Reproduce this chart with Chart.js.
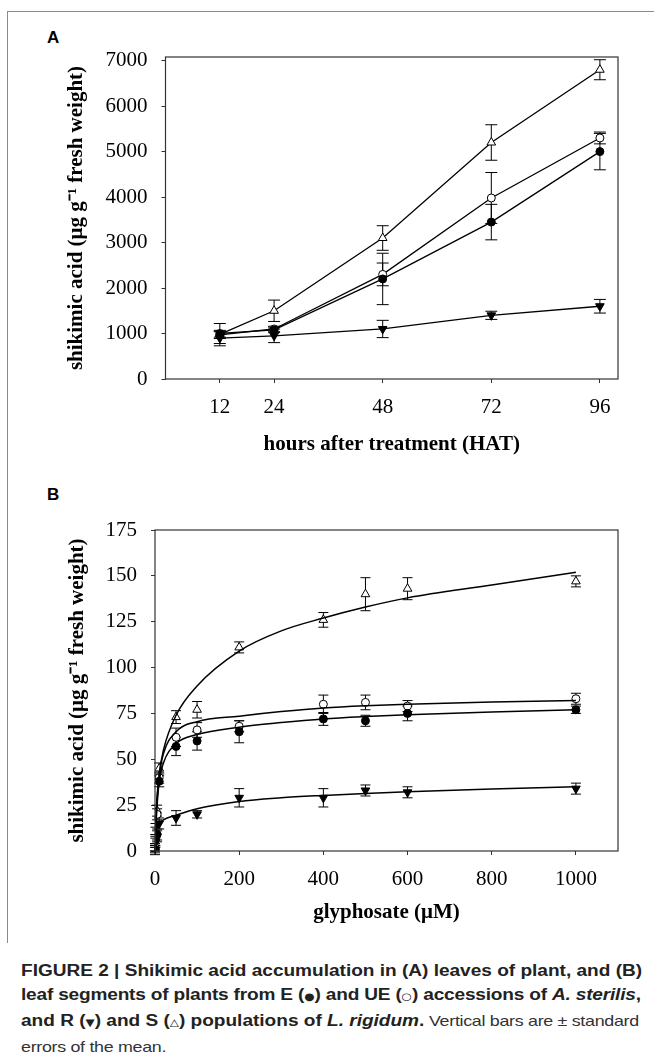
<!DOCTYPE html>
<html>
<head>
<meta charset="utf-8">
<script src="https://cdn.jsdelivr.net/npm/chart.js@4.4.1/dist/chart.umd.min.js"></script>
<style>
  body { margin: 0; background: #fff; width: 654px; height: 1060px; position: relative; overflow: hidden; }
  #frame { position: absolute; left: 7px; top: 11px; width: 700px; height: 931px; border-left: 1.5px solid #8a8a8a; border-top: 1.5px solid #8a8a8a; }
  .panel { position: absolute; left: 0; width: 654px; height: 470px; }
  .tag { position: absolute; left: 47px; font: bold 17px "Liberation Sans", Arial, sans-serif; line-height: 17px; color: #000; }
  #caption { position: absolute; left: 21px; top: 959px; font: 16px "Liberation Sans", Arial, sans-serif; line-height: 24px; color: #222; white-space: nowrap; transform: scaleX(1.19); transform-origin: left top; }
  #caption b { font-weight: bold; }
  #caption .reg { font-size: 15px; letter-spacing: -0.25px; color: #333; }
  #caption .l2 { letter-spacing: -0.15px; }
  .sym { font-family: "DejaVu Sans", sans-serif; font-size: 10px; letter-spacing: 0; }
</style>
</head>
<body>
<div id="frame"></div>
<div class="tag" style="top:29px">A</div>
<div class="tag" style="top:486px">B</div>
<div class="panel" style="top:0"><canvas id="chartA" width="654" height="470"></canvas></div>
<div class="panel" style="top:470px"><canvas id="chartB" width="654" height="470"></canvas></div>
<div id="caption"><b>FIGURE 2 | Shikimic acid accumulation in (A) leaves of plant, and (B)<br><span class="l2">leaf segments of plants from E (<span class="sym">●</span>) and UE (<span class="sym">○</span>) accessions of <i>A. sterilis</i>,</span><br>and R (<span class="sym">▼</span>) and S (<span class="sym">△</span>) populations of <i>L. rigidum</i>.</b><span class="reg"> Vertical bars are ± standard<br>errors of the mean.</span></div>

<script>
// panel A - time course
var hoursA = [12, 24, 48, 72, 96];
var sA = [980, 1500, 3100, 5200, 6800];
var sAerr = [60, 235, 270, 390, 220];
var ueA = [970, 1100, 2300, 3980, 5300];
var ueAerr = [80, 60, 250, 560, 130];
var eA = [1000, 1080, 2200, 3450, 5000];
var eAerr = [220, 60, 565, 390, 400];
var rA = [900, 950, 1100, 1400, 1600];
var rAerr = [170, 150, 190, 90, 150];
var xTicksA = [12, 24, 48, 72, 96];
var yTicksA = [0, 1000, 2000, 3000, 4000, 5000, 6000, 7000];

// panel B - glyphosate dose
var doseB = [0, 1, 5, 10, 50, 100, 200, 400, 500, 600, 1000];
var sB = [2, 12, 22, 45, 73, 77, 111, 126, 140, 143, 147];
var sBerr = [2, 3, 3, 3, 3.5, 4.5, 3, 4, 9, 6, 3];
var ueB = [2, 10, 20, 40, 62, 66, 68, 80, 81, 79, 83];
var ueBerr = [2, 3, 3, 3, 5, 4, 3, 5, 4, 3, 3];
var eB = [1, 6, 9, 38, 57, 60, 65, 72, 71, 75, 77];
var eBerr = [2, 3, 3, 3, 5, 5, 6, 3.5, 3, 4, 2];
var rB = [0, 5, 8, 15, 18, 20, 29, 29, 33, 32, 34];
var rBerr = [2, 3, 3, 3, 4, 2, 5, 5, 3, 3, 3];

// fitted curves
var fitX = [1, 3, 5, 10, 20, 50, 100, 200, 300, 400, 500, 600, 800, 1000];
var sFit = [10, 22, 30, 42, 55, 74, 90, 109, 120, 127, 133, 138, 145, 152];
var ueFit = [8, 20, 28, 41, 53, 65, 70.5, 73.5, 76, 78, 79.2, 80, 81.2, 82];
var eFit = [6, 17, 25, 38, 48, 58.5, 63.5, 67.5, 70, 72, 73.3, 74.3, 75.8, 77];
var rFit = [9, 11, 12.5, 15, 17, 19.5, 23, 27, 29, 30.3, 31.4, 32.3, 33.8, 35];
var xTicksB = [0, 200, 400, 600, 800, 1000];
var yTicksB = [0, 25, 50, 75, 100, 125, 150, 175];

var serif = '"Liberation Serif", "Times New Roman", serif';

function pts(xs, ys) {
  return xs.map(function(x, i) { return {x: x, y: ys[i]}; });
}

// error bars + box around plot area
var errorBars = {
  id: 'errorBars',
  beforeDatasetsDraw: function(chart) {
    var ctx = chart.ctx;
    var xs = chart.scales.x, ys = chart.scales.y;
    var cap = chart.options.plugins.errorBars.cap;
    ctx.save();
    ctx.strokeStyle = '#000';
    ctx.lineWidth = 1;
    chart.data.datasets.forEach(function(ds) {
      if (!ds.errors) return;
      ds.data.forEach(function(p, i) {
        var px = xs.getPixelForValue(p.x);
        var top = ys.getPixelForValue(p.y + ds.errors[i]);
        var bot = ys.getPixelForValue(p.y - ds.errors[i]);
        ctx.beginPath();
        ctx.moveTo(px, top); ctx.lineTo(px, bot);
        ctx.moveTo(px - cap, top); ctx.lineTo(px + cap, top);
        ctx.moveTo(px - cap, bot); ctx.lineTo(px + cap, bot);
        ctx.stroke();
      });
    });
    ctx.restore();
  },
  afterDraw: function(chart) {
    var a = chart.chartArea, ctx = chart.ctx;
    ctx.save();
    ctx.strokeStyle = '#333';
    ctx.lineWidth = 1.2;
    ctx.strokeRect(a.left, a.top, a.right - a.left, a.bottom - a.top);
    ctx.restore();
  }
};

function markerSet(data, errs, style, fill, radius, rot, line) {
  return {
    data: data, errors: errs, showLine: line, pointStyle: style,
    pointRadius: radius, pointRotation: rot, pointBackgroundColor: fill,
    pointBorderColor: '#000', pointBorderWidth: 1,
    borderColor: '#000', borderWidth: 1.3
  };
}

function fitSet(data) {
  return {
    data: data, showLine: true, pointRadius: 0, borderColor: '#000',
    borderWidth: 1.5, cubicInterpolationMode: 'monotone'
  };
}

function axis(min, max, tickList, title, opts) {
  return {
    type: 'linear', min: min, max: max,
    afterBuildTicks: function(s) { s.ticks = tickList.map(function(v) { return {value: v}; }); },
    afterFit: opts.fit,
    border: {display: false},
    grid: {display: true, drawOnChartArea: false, drawTicks: true, tickLength: 4, tickColor: '#333', tickWidth: 1},
    ticks: {
      color: '#000', font: {family: serif, size: 21}, padding: opts.pad, autoSkip: false, maxRotation: 0,
      callback: function(v) { return String(v); }
    },
    title: {display: true, text: title, color: '#000', font: {family: serif, size: 21, weight: 'bold'}, padding: opts.titlePad}
  };
}

var chartA = new Chart('chartA', {
  type: 'scatter',
  data: {
    datasets: [
      markerSet(pts(hoursA, rA), rAerr, 'triangle', '#000', 5, 180, true),
      markerSet(pts(hoursA, eA), eAerr, 'circle', '#000', 4, 0, true),
      markerSet(pts(hoursA, ueA), ueAerr, 'circle', '#fff', 4, 0, true),
      markerSet(pts(hoursA, sA), sAerr, 'triangle', '#fff', 5, 0, true)
    ]
  },
  options: {
    responsive: false, animation: false,
    layout: {padding: {left: 8, right: 36, top: 57, bottom: 10}},
    plugins: {legend: {display: false}, tooltip: {enabled: false}, errorBars: {cap: 6}},
    scales: {
      x: axis(0, 100, xTicksA, 'hours after treatment (HAT)',
        {pad: 12, titlePad: {top: 0, bottom: 3}, fit: function(s) { s.height = 81; }}),
      y: axis(0, 7080, yTicksA, 'shikimic acid (μg g⁻¹ fresh weight)',
        {pad: 14, titlePad: {top: 56, bottom: 0}, fit: function(s) { s.width = 157.5; }})
    }
  },
  plugins: [errorBars]
});

var chartB = new Chart('chartB', {
  type: 'scatter',
  data: {
    datasets: [
      fitSet(pts(fitX, sFit)),
      fitSet(pts(fitX, ueFit)),
      fitSet(pts(fitX, eFit)),
      fitSet(pts(fitX, rFit)),
      markerSet(pts(doseB, rB), rBerr, 'triangle', '#000', 5, 180, false),
      markerSet(pts(doseB, eB), eBerr, 'circle', '#000', 4, 0, false),
      markerSet(pts(doseB, ueB), ueBerr, 'circle', '#fff', 4, 0, false),
      markerSet(pts(doseB, sB), sBerr, 'triangle', '#fff', 5, 0, false)
    ]
  },
  options: {
    responsive: false, animation: false,
    layout: {padding: {left: 8, right: 36, top: 60, bottom: 10}},
    plugins: {legend: {display: false}, tooltip: {enabled: false}, errorBars: {cap: 5}},
    scales: {
      x: axis(0, 1100, xTicksB, 'glyphosate (μM)',
        {pad: 12, titlePad: {top: 0, bottom: 5}, fit: function(s) { s.height = 79; }}),
      y: axis(0, 175, yTicksB, 'shikimic acid (μg g⁻¹ fresh weight)',
        {pad: 14, titlePad: {top: 57, bottom: 0}, fit: function(s) { s.width = 147; }})
    }
  },
  plugins: [errorBars]
});
</script>
</body>
</html>
